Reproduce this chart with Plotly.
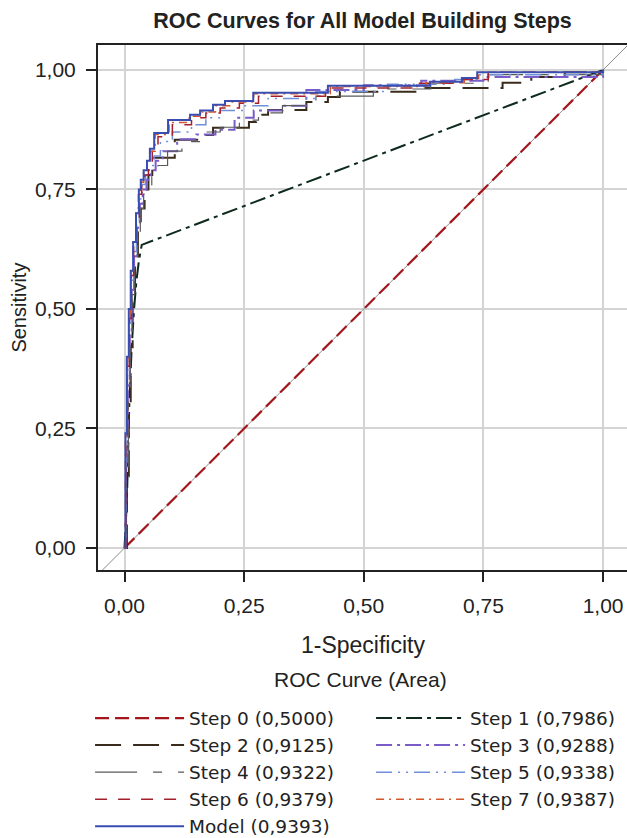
import plotly.graph_objects as go

# ---------------- data ----------------
step0_fpr = [0.0, 1.0]
step0_tpr = [0.0, 1.0]

step1_fpr = [0.0, 0.005, 0.010, 0.015, 0.020, 0.025, 0.030, 0.036, 1.0]
step1_tpr = [0.0, 0.10, 0.30, 0.42, 0.50, 0.56, 0.60, 0.634, 1.0]

step2_fpr = [0.0, 0.005, 0.009, 0.013, 0.017, 0.022, 0.028, 0.034, 0.042, 0.050, 0.058, 0.105,
             0.168, 0.185, 0.260, 0.275, 0.300, 0.380, 0.425, 0.450, 0.620, 0.790, 0.850, 0.920, 1.0]
step2_tpr = [0.0, 0.15, 0.30, 0.42, 0.52, 0.59, 0.66, 0.71, 0.75, 0.78, 0.816, 0.854,
             0.864, 0.879, 0.891, 0.906, 0.916, 0.933, 0.943, 0.954, 0.962, 0.973, 0.985, 0.995, 1.0]

step3_fpr = [0.0, 0.003, 0.007, 0.011, 0.015, 0.020, 0.026, 0.032, 0.038, 0.046, 0.055, 0.065,
             0.080, 0.110, 0.150, 0.190, 0.230, 0.270, 0.330, 0.380, 0.500, 0.620, 0.750, 1.0]
step3_tpr = [0.0, 0.18, 0.34, 0.45, 0.54, 0.61, 0.67, 0.72, 0.75, 0.77, 0.79, 0.81,
             0.83, 0.855, 0.865, 0.875, 0.900, 0.915, 0.925, 0.958, 0.968, 0.977, 0.985, 1.0]

step4_fpr = [0.0, 0.004, 0.008, 0.012, 0.016, 0.021, 0.027, 0.033, 0.040, 0.048, 0.057, 0.070,
             0.090, 0.120, 0.160, 0.200, 0.240, 0.280, 0.330, 0.400, 0.520, 0.640, 0.760, 1.0]
step4_tpr = [0.0, 0.17, 0.33, 0.44, 0.53, 0.60, 0.66, 0.71, 0.74, 0.76, 0.78, 0.80,
             0.83, 0.85, 0.87, 0.88, 0.895, 0.91, 0.925, 0.945, 0.96, 0.972, 0.99, 1.0]

step5_fpr = [0.0, 0.003, 0.006, 0.010, 0.014, 0.019, 0.025, 0.031, 0.037, 0.044, 0.052, 0.062,
             0.075, 0.100, 0.140, 0.170, 0.200, 0.250, 0.300, 0.400, 0.550, 0.680, 0.740, 1.0]
step5_tpr = [0.0, 0.20, 0.36, 0.47, 0.56, 0.62, 0.68, 0.73, 0.76, 0.78, 0.80, 0.82,
             0.85, 0.87, 0.885, 0.90, 0.915, 0.925, 0.94, 0.955, 0.97, 0.98, 0.99, 1.0]

step6_fpr = [0.0, 0.003, 0.006, 0.010, 0.014, 0.019, 0.025, 0.031, 0.036, 0.042, 0.050, 0.058,
             0.070, 0.100, 0.140, 0.170, 0.200, 0.240, 0.280, 0.420, 0.600, 0.700, 0.760, 1.0]
step6_tpr = [0.0, 0.22, 0.38, 0.48, 0.57, 0.63, 0.69, 0.74, 0.76, 0.78, 0.80, 0.83,
             0.86, 0.885, 0.90, 0.91, 0.92, 0.93, 0.945, 0.962, 0.972, 0.98, 0.995, 1.0]

step7_fpr = [0.0, 0.002, 0.005, 0.009, 0.013, 0.018, 0.024, 0.029, 0.034, 0.040, 0.047, 0.054,
             0.064, 0.093, 0.135, 0.160, 0.190, 0.220, 0.270, 0.430, 0.630, 0.710, 0.740, 1.0]
step7_tpr = [0.0, 0.23, 0.39, 0.49, 0.58, 0.64, 0.70, 0.745, 0.765, 0.785, 0.805, 0.83,
             0.865, 0.89, 0.903, 0.912, 0.925, 0.933, 0.95, 0.965, 0.973, 0.982, 0.995, 1.0]

model_fpr = [0.0, 0.002, 0.005, 0.009, 0.013, 0.018, 0.024, 0.030, 0.034, 0.040, 0.047, 0.053,
             0.062, 0.091, 0.137, 0.158, 0.185, 0.210, 0.269, 0.425, 0.638, 0.705, 0.737, 1.0]
model_tpr = [0.0, 0.24, 0.40, 0.50, 0.58, 0.64, 0.70, 0.75, 0.77, 0.79, 0.81, 0.835,
             0.868, 0.895, 0.906, 0.915, 0.927, 0.935, 0.952, 0.967, 0.975, 0.983, 0.995, 1.0]

series_names = ["Step 0 (0,5000)", "Step 1 (0,7986)", "Step 2 (0,9125)", "Step 3 (0,9288)",
                "Step 4 (0,9322)", "Step 5 (0,9338)", "Step 6 (0,9379)", "Step 7 (0,9387)",
                "Model (0,9393)"]

ref_line = [-0.06, 1.06]
x_ticks = [0.0, 0.25, 0.5, 0.75, 1.0]
y_ticks = [0.0, 0.25, 0.5, 0.75, 1.0]

# ---------------- figure ----------------
FONT = "Liberation Sans, Arial, sans-serif"
LEG_FONT = "DejaVu Sans, Liberation Sans, sans-serif"
TXT = "#222222"
FS = 21
fig = go.Figure()

fig.add_trace(go.Scatter(x=ref_line, y=ref_line, mode="lines",
                         line=dict(color="#8a8a8a", width=1), showlegend=False,
                         hoverinfo="skip"))

styles = [
    (step0_fpr, step0_tpr, "#a3161c", "14px,6px", 2.2, "linear"),
    (step1_fpr, step1_tpr, "#0d2a1c", "16px,5px,4px,5px", 2.0, "linear"),
    (step2_fpr, step2_tpr, "#3a2c1c", "26px,12px", 2.0, "hv"),
    (step3_fpr, step3_tpr, "#7a5cc8", "16px,5px,3px,5px", 2.0, "hv"),
    (step4_fpr, step4_tpr, "#5a5a5a", "42px,16px,9px,16px", 1.2, "hv"),
    (step5_fpr, step5_tpr, "#6f90d8", "16px,6px,2px,6px,2px,6px", 1.5, "hv"),
    (step6_fpr, step6_tpr, "#a3202c", "12px,11px", 1.5, "hv"),
    (step7_fpr, step7_tpr, "#d4562c", "8px,5px,2px,5px", 1.5, "hv"),
    (model_fpr, model_tpr, "#3a4db0", "solid", 2.0, "hv"),
]

for (xs, ys, col, dash, w, shape), name in zip(styles, series_names):
    fig.add_trace(go.Scatter(x=xs, y=ys, mode="lines", name=name,
                             line=dict(color=col, dash=dash, width=w, shape=shape)))

axis_common = dict(
    showgrid=True, gridcolor="#d4d4d4", gridwidth=2, automargin=False,
    zeroline=False, showline=True, linecolor="#222222", linewidth=2, mirror=True,
    ticks="outside", ticklen=10, tickwidth=2, tickcolor="#222222",
    tickformat=".2f", tickfont=dict(family=FONT, size=FS, color=TXT),
)

fig.update_layout(
    width=627, height=838,
    paper_bgcolor="white", plot_bgcolor="white",
    separators=",.",
    margin=dict(l=98, r=0, t=45, b=268, autoexpand=False),
    title=dict(text="<b>ROC Curves for All Model Building Steps</b>",
               x=0.5, xref="paper", xanchor="center", y=0.976, yanchor="middle",
               font=dict(family=FONT, size=21.5, color=TXT)),
    xaxis=dict(range=[-0.0554, 1.05], tickvals=x_ticks, ticklabelstandoff=6, **axis_common),
    yaxis=dict(range=[-0.046, 1.052], tickvals=y_ticks, ticklabelstandoff=6, **axis_common),
    annotations=[
        dict(text="1-Specificity", xref="paper", yref="paper", x=0.5, y=-0.1429,
             xanchor="center", yanchor="middle", showarrow=False,
             font=dict(family=FONT, size=23, color=TXT)),
        dict(text="Sensitivity", xref="paper", yref="paper", x=-0.151, y=0.5,
             xanchor="center", yanchor="middle", showarrow=False, textangle=-90,
             font=dict(family=FONT, size=20, color=TXT)),
        dict(text="ROC Curve (Area)", xref="paper", yref="paper", x=0.497, y=-0.2095,
             xanchor="center", yanchor="middle", showarrow=False,
             font=dict(family=FONT, size=FS, color=TXT)),
    ],
    legend=dict(
        orientation="h", x=-0.015, xanchor="left", y=-0.2467, yanchor="top",
        entrywidth=177, entrywidthmode="pixels", itemwidth=89,
        font=dict(family=LEG_FONT, size=18.5, color=TXT),
        bgcolor="rgba(0,0,0,0)", traceorder="normal",
    ),
    showlegend=True,
)

fig.write_html("out.html", config={"displayModeBar": False},
               post_script="document.body.style.margin='0';document.body.style.overflow='hidden';")
